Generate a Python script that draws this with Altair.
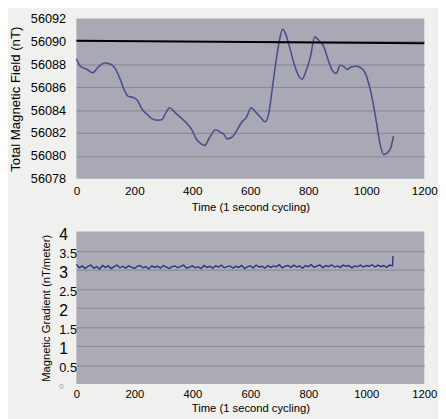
import altair as alt
import pandas as pd

# ---- Top chart: total magnetic field (nT) vs time (s) ----
field_time = [0, 14, 37, 56, 76, 98, 118, 134, 152, 165,
              179, 193, 210, 227, 244, 260, 279, 294, 309, 322,
              339, 356, 378, 400, 413, 430, 443, 457, 480, 497,
              508, 519, 536, 553, 569, 586, 603, 620, 636, 651,
              664, 675, 689, 700, 711, 722, 737, 754, 768, 778,
              793, 807, 822, 837, 854, 867, 882, 896, 910, 923,
              934, 949, 966, 979, 994, 1008, 1021, 1035, 1046, 1060,
              1075, 1083, 1094]
field_nt = [56088.49, 56087.83, 56087.55, 56087.26, 56087.78, 56088.12, 56088.00, 56087.63, 56086.63, 56085.77,
            56085.20, 56085.12, 56084.86, 56084.06, 56083.63, 56083.26, 56083.12, 56083.15, 56083.78, 56084.20,
            56083.83, 56083.43, 56082.92, 56082.20, 56081.50, 56081.06, 56080.92, 56081.50, 56082.29, 56082.06,
            56081.92, 56081.49, 56081.63, 56082.20, 56082.92, 56083.35, 56084.20, 56083.78, 56083.35, 56082.98,
            56083.78, 56085.77, 56088.34, 56090.06, 56091.06, 56090.63, 56089.35, 56087.78, 56086.92, 56086.69,
            56087.49, 56088.63, 56090.40, 56090.06, 56089.49, 56088.49, 56087.49, 56087.20, 56087.92, 56087.78,
            56087.55, 56087.78, 56087.83, 56087.72, 56087.35, 56086.35, 56084.92, 56082.92, 56081.20, 56080.12,
            56080.35, 56080.63, 56081.72]
ref_time = [0, 1200]
ref_nt = [56090.06, 56089.84]
field_ticks = [56078, 56080, 56082, 56084, 56086, 56088, 56090, 56092]

# ---- Bottom chart: magnetic gradient (nT/meter) vs time (s) ----
grad_time = list(range(0, 1100, 10)) + [1092]
grad_val = [3.14, 3.05, 3.10, 3.03, 3.09, 3.12, 3.04, 3.08, 3.02, 3.11,
            3.06, 3.10, 3.03, 3.08, 3.12, 3.05, 3.09, 3.04, 3.10, 3.07,
            3.03, 3.09, 3.11, 3.05, 3.08, 3.02, 3.10, 3.06, 3.09, 3.04,
            3.11, 3.07, 3.03, 3.08, 3.10, 3.05, 3.09, 3.12, 3.04, 3.07,
            3.10, 3.05, 3.08, 3.03, 3.11, 3.06, 3.09, 3.04, 3.10, 3.07,
            3.12, 3.05, 3.08, 3.10, 3.04, 3.09, 3.06, 3.11, 3.03, 3.08,
            3.10, 3.05, 3.12, 3.07, 3.09, 3.04, 3.11, 3.06, 3.10, 3.08,
            3.13, 3.05, 3.09, 3.11, 3.06, 3.12, 3.07, 3.10, 3.04, 3.11,
            3.08, 3.13, 3.06, 3.10, 3.12, 3.05, 3.11, 3.08, 3.13, 3.07,
            3.10, 3.06, 3.12, 3.09, 3.11, 3.05, 3.10, 3.08, 3.12, 3.07,
            3.11, 3.09, 3.13, 3.07, 3.12, 3.08, 3.11, 3.06, 3.12, 3.10,
            3.36]
grad_ticks = [0, 0.5, 1, 1.5, 2, 2.5, 3, 3.5, 4]
time_ticks = [0, 200, 400, 600, 800, 1000, 1200]

FONT = "Liberation Sans"
GRID = "#868692"

df_field = pd.DataFrame({"t": field_time, "v": field_nt})
df_ref = pd.DataFrame({"t": ref_time, "v": ref_nt})
df_grad = pd.DataFrame({"t": grad_time, "g": grad_val})

x_top = alt.X("t:Q", scale=alt.Scale(domain=[0, 1200], nice=False),
              axis=alt.Axis(values=time_ticks, format="d", title="Time (1 second cycling)", grid=False,
                            ticks=False, domain=False, labelFontSize=12, labelPadding=7,
                            labelFlush=False, labelOverlap=False, titlePadding=5,
                            titleFontSize=11.5, titleFontWeight="normal"))
y_top = alt.Y("v:Q", scale=alt.Scale(domain=[56078, 56092], nice=False, zero=False),
              axis=alt.Axis(values=field_ticks, format="d", title="Total Magnetic Field (nT)",
                            grid=True, gridColor=GRID,
                            gridOpacity=alt.ExprRef("datum.value === 56078 || datum.value === 56092 ? 0 : 1"),
                            ticks=False, domain=False, labelFontSize=13, labelPadding=11,
                            labelOverlap=False, titlePadding=8, titleFontSize=13.5,
                            titleFontWeight="normal"))

field_line = alt.Chart(df_field).mark_line(color="#4d4d8c", strokeWidth=1.6, interpolate="monotone").encode(
    x=x_top, y=y_top)
ref_line = alt.Chart(df_ref).mark_line(color="black", strokeWidth=2.2).encode(
    x=x_top, y=y_top)

top = alt.layer(field_line, ref_line).properties(
    width=356, height=164, view=alt.ViewBackground(fill="#a9a8b5", stroke=None))

x_bot = alt.X("t:Q", scale=alt.Scale(domain=[0, 1200], nice=False),
              axis=alt.Axis(values=time_ticks, format="d", title="Time (1 second cycling)", grid=False,
                            ticks=False, domain=False, labelFontSize=11.5, labelPadding=5,
                            labelFlush=False, labelOverlap=False, titlePadding=3,
                            titleFontSize=11.5, titleFontWeight="normal"))
y_bot = alt.Y("g:Q", scale=alt.Scale(domain=[0, 4], nice=False),
              axis=alt.Axis(values=grad_ticks, format="~g", title="Magnetic Gradient (nT/meter)",
                            grid=True, gridColor=GRID,
                            gridOpacity=alt.ExprRef("datum.value === 0 || datum.value === 4 ? 0 : 1"),
                            ticks=False, domain=False, labelAlign="left", labelPadding=18,
                            labelOffset=3, labelOverlap=False,
                            labelFontSize=alt.ExprRef("datum.value === 0 ? 8 : (datum.value % 1 === 0 ? 16 : 13)"),
                            labelColor=alt.ExprRef("datum.value === 0 ? '#9a9a9a' : 'black'"),
                            titlePadding=8, titleFontSize=11.5, titleFontWeight="normal"))

bottom = alt.Chart(df_grad).mark_line(color="#24347e", strokeWidth=1.4).encode(
    x=x_bot, y=y_bot).properties(
    width=356, height=156, view=alt.ViewBackground(fill="#acabb5", stroke=None))

chart = alt.vconcat(top, bottom, spacing=54, bounds="flush").properties(
    background="#f0f0ee", padding=0
).configure_axis(
    labelFont=FONT, titleFont=FONT, labelColor="black", titleColor="black"
)

chart.save("out.html", embed_options={"renderer": "svg", "actions": False})
